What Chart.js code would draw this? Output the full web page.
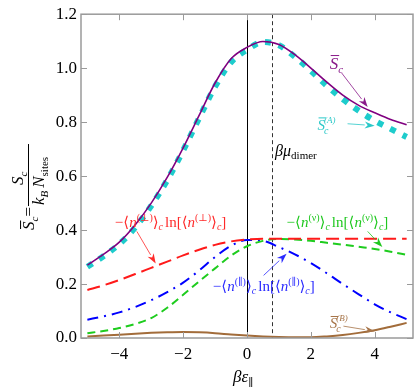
<!DOCTYPE html>
<html>
<head>
<meta charset="utf-8">
<script src="https://cdn.jsdelivr.net/npm/chart.js@4.4.1/dist/chart.umd.min.js"></script>
<style>
  html, body { margin: 0; padding: 0; background: #fff; }
  #wrap { width: 415px; height: 390px; }
</style>
</head>
<body>
<div id="wrap"><canvas id="entropyChart" width="415" height="390"></canvas></div>
<script>
// beta*eps_par sample points
var xs = [-5, -4.5, -4, -3.5, -3, -2.5, -2, -1.5, -1, -0.5, 0, 0.5, 1, 1.5, 2, 2.5, 3, 3.5, 4, 4.5, 5];

// total configurational entropy per site
var sC    = [0.27, 0.31, 0.355, 0.42, 0.50, 0.595, 0.705, 0.825, 0.945, 1.035, 1.077, 1.099, 1.088, 1.05, 1.0, 0.948, 0.90, 0.862, 0.835, 0.81, 0.79];
// S_c^(A)
var sA    = [0.264, 0.303, 0.348, 0.41, 0.49, 0.585, 0.695, 0.815, 0.932, 1.022, 1.068, 1.097, 1.085, 1.042, 0.99, 0.935, 0.885, 0.842, 0.805, 0.775, 0.745];
// -<n(perp)> ln<n(perp)>
var nPerp = [0.178, 0.195, 0.215, 0.237, 0.26, 0.283, 0.306, 0.327, 0.345, 0.358, 0.365, 0.368, 0.368, 0.368, 0.368, 0.368, 0.368, 0.368, 0.368, 0.368, 0.368];
// -<n(nu)> ln<n(nu)>
var nNu   = [0.018, 0.026, 0.037, 0.052, 0.074, 0.112, 0.16, 0.21, 0.258, 0.305, 0.34, 0.36, 0.367, 0.365, 0.36, 0.353, 0.346, 0.338, 0.33, 0.32, 0.308];
// -<n(par)> ln<n(par)>
var nPar  = [0.068, 0.08, 0.095, 0.115, 0.14, 0.17, 0.205, 0.25, 0.30, 0.342, 0.363, 0.36, 0.337, 0.31, 0.278, 0.24, 0.20, 0.162, 0.125, 0.095, 0.07];
// S_c^(B)
var sB    = [0.006, 0.009, 0.012, 0.016, 0.019, 0.021, 0.022, 0.021, 0.018, 0.013, 0.009, 0.006, 0.004, 0.003, 0.003, 0.006, 0.011, 0.019, 0.029, 0.042, 0.056];

var xTicks = [-4, -2, 0, 2, 4];
var yTicks = [0, 0.2, 0.4, 0.6, 0.8, 1.0, 1.2];
var muDimer = 0.78;

var SERIF = '"Liberation Serif", "DejaVu Serif", serif';
Chart.defaults.font.family = SERIF;

function pts(arr) {
    return xs.map(function(x, i) { return { x: x, y: arr[i] }; });
}

// draw a run of text pieces (italic / sub / sup), returns end x
function rich(ctx, x, y, parts, color) {
    var cx = x;
    ctx.fillStyle = color;
    ctx.textBaseline = 'alphabetic';
    ctx.textAlign = 'left';
    parts.forEach(function(p) {
        ctx.font = (p.i ? 'italic ' : '') + p.s + 'px ' + SERIF;
        var w = ctx.measureText(p.t).width;
        ctx.fillText(p.t, cx, y + (p.dy || 0));
        if (p.bar) {
            ctx.fillRect(cx + 1, y + (p.dy || 0) - p.s * 0.82, w, 1);
        }
        cx += w + (p.gap || 0);
    });
    return cx;
}

function arrow(ctx, x1, y1, x2, y2, color) {
    var a = Math.atan2(y2 - y1, x2 - x1);
    var len = 10, hw = 3.5;
    ctx.strokeStyle = color;
    ctx.fillStyle = color;
    ctx.lineWidth = 0.8;
    ctx.setLineDash([]);
    ctx.beginPath();
    ctx.moveTo(x1, y1);
    ctx.lineTo(x2 - len * Math.cos(a), y2 - len * Math.sin(a));
    ctx.stroke();
    ctx.beginPath();
    ctx.moveTo(x2, y2);
    ctx.lineTo(x2 - len * Math.cos(a) - hw * Math.sin(a), y2 - len * Math.sin(a) + hw * Math.cos(a));
    ctx.lineTo(x2 - len * 0.7 * Math.cos(a), y2 - len * 0.7 * Math.sin(a));
    ctx.lineTo(x2 - len * Math.cos(a) + hw * Math.sin(a), y2 - len * Math.sin(a) - hw * Math.cos(a));
    ctx.closePath();
    ctx.fill();
}

function nTerm(sym, s) {
    var sm = Math.round(s * 0.65);
    return [
        { t: '\u2212\u27E8', s: s },
        { t: 'n', s: s, i: 1 },
        { t: '(' + sym + ')', s: sm, dy: -6 },
        { t: '\u27E9', s: s },
        { t: 'c', s: sm, i: 1, dy: 3, gap: 2 },
        { t: 'ln[\u27E8', s: s },
        { t: 'n', s: s, i: 1 },
        { t: '(' + sym + ')', s: sm, dy: -6 },
        { t: '\u27E9', s: s },
        { t: 'c', s: sm, i: 1, dy: 3 },
        { t: ']', s: s }
    ];
}

// frame, inside ticks and reference lines
var framePlugin = {
    id: 'frame',
    beforeDatasetsDraw: function(chart) {
        var ctx = chart.ctx, a = chart.chartArea;
        var xs_ = chart.scales.x;
        ctx.save();
        // x = 0 line
        var x0 = Math.round(xs_.getPixelForValue(0)) + 0.5;
        ctx.strokeStyle = '#000';
        ctx.lineWidth = 1;
        ctx.beginPath();
        ctx.moveTo(x0, a.top); ctx.lineTo(x0, a.bottom);
        ctx.stroke();
        // beta mu_dimer
        var xm = Math.round(xs_.getPixelForValue(muDimer)) + 0.5;
        ctx.strokeStyle = '#333';
        ctx.setLineDash([4, 3]);
        ctx.beginPath();
        ctx.moveTo(xm, a.top); ctx.lineTo(xm, a.bottom);
        ctx.stroke();
        ctx.setLineDash([]);
        ctx.restore();
    },
    afterDraw: function(chart) {
        var ctx = chart.ctx, a = chart.chartArea;
        var xs_ = chart.scales.x, ys_ = chart.scales.y;
        ctx.save();
        ctx.strokeStyle = '#9a9a9a';
        ctx.lineWidth = 1.5;
        ctx.strokeRect(a.left, a.top, a.right - a.left, a.bottom - a.top);
        ctx.lineWidth = 1;
        ctx.beginPath();
        xTicks.forEach(function(v) {
            var p = Math.round(xs_.getPixelForValue(v)) + 0.5;
            ctx.moveTo(p, a.bottom); ctx.lineTo(p, a.bottom - 6);
            ctx.moveTo(p, a.top); ctx.lineTo(p, a.top + 6);
        });
        yTicks.forEach(function(v) {
            var p = Math.round(ys_.getPixelForValue(v)) + 0.5;
            ctx.moveTo(a.left, p); ctx.lineTo(a.left + 6, p);
            ctx.moveTo(a.right, p); ctx.lineTo(a.right - 6, p);
        });
        ctx.stroke();
        ctx.restore();
    }
};

// labels, arrows, axis titles
var notesPlugin = {
    id: 'notes',
    afterDraw: function(chart) {
        var ctx = chart.ctx;
        var X = function(v) { return chart.scales.x.getPixelForValue(v); };
        var Y = function(v) { return chart.scales.y.getPixelForValue(v); };
        ctx.save();

        // S_c (purple)
        rich(ctx, X(2.59), Y(0.997), [
            { t: 'S', s: 17, i: 1, bar: 1 }, { t: 'c', s: 11, i: 1, dy: 4 }
        ], '#8a1a8a');
        arrow(ctx, X(2.96), Y(0.983), X(3.78), Y(0.856), '#8a1a8a');

        // S_c^(A) (cyan)
        var cx = rich(ctx, X(2.21), Y(0.772), [{ t: 'S', s: 15, i: 1, bar: 1 }], '#2ac8c8');
        rich(ctx, cx - 1, Y(0.772) - 7, [{ t: '(A)', s: 9, i: 1 }], '#2ac8c8');
        rich(ctx, cx - 1, Y(0.772) + 4, [{ t: 'c', s: 10, i: 1 }], '#2ac8c8');
        arrow(ctx, X(3.15), Y(0.794), X(4.0), Y(0.787), '#2ac8c8');

        // beta mu_dimer
        cx = rich(ctx, X(0.88), Y(0.674), [{ t: '\u03B2\u03BC', s: 16, i: 1 }], '#000');
        rich(ctx, cx, Y(0.674) + 3, [{ t: 'dimer', s: 11 }], '#000');

        // perp (red)
        rich(ctx, X(-4.14), Y(0.413), nTerm('\u22A5', 15), '#ff2a2a');
        arrow(ctx, X(-3.45), Y(0.395), X(-2.86), Y(0.276), '#ff2a2a');

        // nu (green)
        rich(ctx, X(1.24), Y(0.413), nTerm('\u03BD', 15), '#1ec81e');
        arrow(ctx, X(3.78), Y(0.395), X(4.24), Y(0.337), '#1ec81e');

        // parallel (blue)
        rich(ctx, X(-1.07), Y(0.175), nTerm('\u2225', 15), '#2a2aff');
        arrow(ctx, X(0.52), Y(0.232), X(1.24), Y(0.312), '#2a2aff');

        // S_c^(B) (brown)
        cx = rich(ctx, X(2.59), Y(0.036), [{ t: 'S', s: 15, i: 1, bar: 1 }], '#a67448');
        rich(ctx, cx - 1, Y(0.036) - 7, [{ t: '(B)', s: 9, i: 1 }], '#a67448');
        rich(ctx, cx - 1, Y(0.036) + 4, [{ t: 'c', s: 10, i: 1 }], '#a67448');
        arrow(ctx, X(3.02), Y(0.044), X(4.0), Y(0.025), '#a67448');

        // x title
        cx = rich(ctx, X(0) - 14, 382, [{ t: '\u03B2\u03B5', s: 17, i: 1 }], '#000');
        rich(ctx, cx, 386, [{ t: '\u2225', s: 11 }], '#000');

        // y title, rotated
        ctx.translate(28, 180);
        ctx.rotate(-Math.PI / 2);
        cx = rich(ctx, -50, 6, [{ t: 'S', s: 17, i: 1, bar: 1 }], '#000');
        cx = rich(ctx, cx, 10, [{ t: 'c', s: 11, i: 1 }], '#000');
        cx = rich(ctx, cx, 6, [{ t: '=', s: 17 }], '#000');
        ctx.fillStyle = '#000';
        ctx.fillRect(cx + 1, 0, 62, 1);
        var nx = rich(ctx, cx + 22, -5, [{ t: 'S', s: 17, i: 1 }], '#000');
        rich(ctx, nx, -1, [{ t: 'c', s: 11, i: 1 }], '#000');
        var dx = rich(ctx, cx + 2, 16, [{ t: 'k', s: 17, i: 1 }], '#000');
        dx = rich(ctx, dx, 20, [{ t: 'B', s: 11, i: 1, gap: 3 }], '#000');
        dx = rich(ctx, dx, 16, [{ t: 'N', s: 17, i: 1 }], '#000');
        rich(ctx, dx, 20, [{ t: 'sites', s: 11 }], '#000');
        ctx.restore();
    }
};

function line(label, arr, color, width, dash) {
    return {
        label: label,
        data: pts(arr),
        borderColor: color,
        borderWidth: width,
        borderDash: dash,
        borderCapStyle: 'butt',
        fill: false,
        pointRadius: 0,
        cubicInterpolationMode: 'monotone'
    };
}

var ctx = document.getElementById('entropyChart').getContext('2d');
var entropyChart = new Chart(ctx, {
    type: 'line',
    data: {
        datasets: [
            line('S_c', sC, '#800080', 1.6, []),
            line('S_c^(A)', sA, '#1ecccc', 6, [6, 8]),
            line('perp', nPerp, '#ff1a1a', 2, [13, 6]),
            line('nu', nNu, '#1ecc1e', 2, [8, 5]),
            line('par', nPar, '#0000ff', 2, [11, 6, 2, 6]),
            line('S_c^(B)', sB, '#a26c3a', 2, [])
        ]
    },
    options: {
        responsive: false,
        animation: false,
        devicePixelRatio: 1,
        layout: { padding: { top: 7, right: 2, left: 0, bottom: 0 } },
        plugins: { legend: { display: false }, tooltip: { enabled: false } },
        scales: {
            x: {
                type: 'linear',
                min: -5.2,
                max: 5.2,
                grid: { display: false, drawTicks: false },
                border: { display: false },
                afterFit: function(s) { s.height = 52; },
                afterBuildTicks: function(s) { s.ticks = xTicks.map(function(v) { return { value: v }; }); },
                ticks: {
                    padding: 6,
                    color: '#000',
                    font: { family: SERIF, size: 17 },
                    callback: function(v) { return v < 0 ? '\u2212' + Math.abs(v) : '' + v; }
                }
            },
            y: {
                min: 0,
                max: 1.2,
                grid: { display: false, drawTicks: false },
                border: { display: false },
                afterFit: function(s) { s.width = 81; },
                afterBuildTicks: function(s) { s.ticks = yTicks.map(function(v) { return { value: v }; }); },
                ticks: {
                    padding: 4,
                    color: '#000',
                    font: { family: SERIF, size: 17 },
                    callback: function(v) { return v.toFixed(1); }
                }
            }
        }
    },
    plugins: [framePlugin, notesPlugin]
});
</script>
</body>
</html>
